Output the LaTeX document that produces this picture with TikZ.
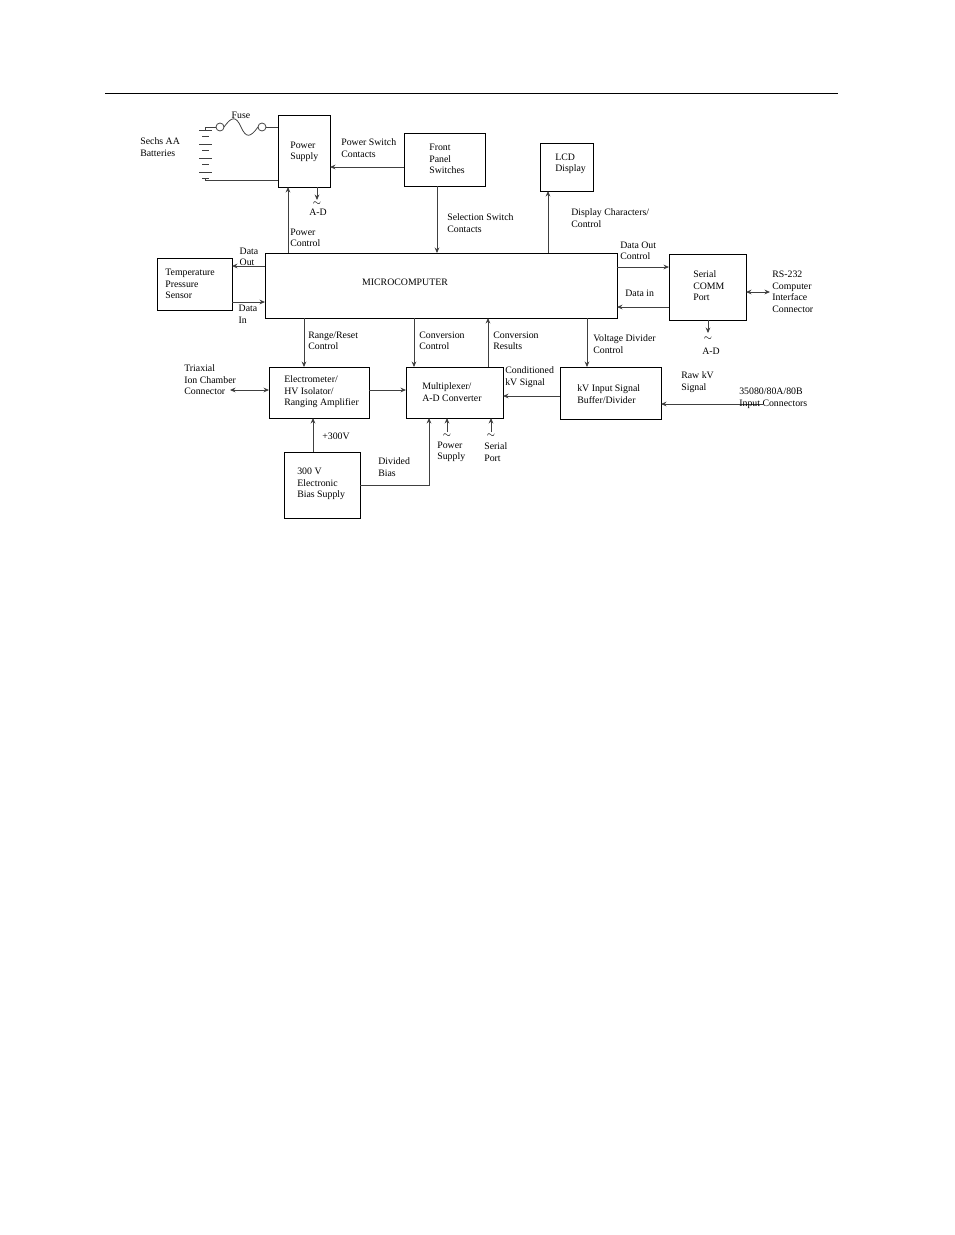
\documentclass[tikz,border=0pt]{standalone}
\usepackage{fontspec}
\setmainfont{Liberation Serif}
\usetikzlibrary{arrows.meta}

\begin{document}
\begin{tikzpicture}[x=0.641pt,y=-0.641pt,
  every node/.style={font=\fontsize{6.3}{7.4}\selectfont, align=left, inner sep=0pt},
  blk/.style={draw, line width=0.5pt},
  lbl/.style={anchor=west},
  wire/.style={line width=0.5pt, draw=black!75},
  arr/.style={wire, -{Stealth[length=3.5pt,width=3pt]}},
  darr/.style={wire, {Stealth[length=3.5pt,width=3pt]}-{Stealth[length=3.5pt,width=3pt]}}]
\useasboundingbox (0,0) rectangle (954,1235);
\draw[line width=0.6pt] (105,93) -- (838,93);

% blocks
\draw[blk] (278,115) rectangle (330,187);
\node[lbl] (psu) at (290,152) {Power\\Supply};
\draw[blk] (404,133) rectangle (485,186);
\node[lbl] (fps) at (429,159) {Front\\Panel\\Switches};
\draw[blk] (540,143) rectangle (593,191);
\node[lbl] (lcd) at (555,164) {LCD\\Display};
\draw[blk] (265,253) rectangle (617,318);
\node (mc) at (405,282) {MICROCOMPUTER};
\draw[blk] (157,258) rectangle (232,310);
\node[lbl] (tps) at (165,284) {Temperature\\Pressure\\Sensor};
\draw[blk] (669,254) rectangle (746,320);
\node[lbl] (scp) at (693,286) {Serial\\COMM\\Port};
\draw[blk] (269,367) rectangle (369,418);
\node[lbl] (elm) at (284,392) {Electrometer/\\HV Isolator/\\Ranging Amplifier};
\draw[blk] (406,367) rectangle (503,418);
\node[lbl] (mux) at (422,392) {Multiplexer/\\A-D Converter};
\draw[blk] (560,367) rectangle (661,419);
\node[lbl] (kvb) at (577,394) {kV Input Signal\\Buffer/Divider};
\draw[blk] (284,452) rectangle (360,518);
\node[lbl] (bias) at (297,484) {300 V\\Electronic\\Bias Supply};

% battery and fuse
\node[lbl] (bat) at (140,147) {Sechs AA\\Batteries};
\foreach \y in {130,144,158,172} {
  \draw[wire] (199,\y) -- (212,\y);
  \draw[wire] (202,\y+6) -- (209,\y+6);
}
\draw[wire] (205,127) -- (205,130);
\draw[wire] (205,178) -- (205,180) -- (278,180);
\draw[wire] (205,127) -- (216,127);
\draw[wire] (220,127) circle (4);
\draw[wire] (224,127) .. controls (232,116) and (236,116) .. (241,127)
  .. controls (246,138) and (250,138) .. (258,127);
\draw[wire] (262,127) circle (4);
\draw[wire] (266,127) -- (278,127);
\node (fuse) at (241,115) {Fuse};

% connectors
\draw[arr] (404,167) -- (330,167);
\node[lbl] at (341,148) {Power Switch\\Contacts};
\draw[arr] (437,186) -- (437,253);
\node[lbl] at (447,223) {Selection Switch\\Contacts};
\draw[arr] (288,253) -- (288,187);
\node[lbl] at (290,238) {Power\\Control};
\draw[arr] (317,187) -- (317,200);
\node at (317,204) {$\sim$};
\node at (318,212) {A-D};
\draw[arr] (548,253) -- (548,191);
\node[lbl] at (571,218) {Display Characters/\\Control};
\draw[arr] (265,266) -- (232,266);
\node at (249,257) {Data\\Out};
\draw[arr] (232,302) -- (265,302);
\node at (248,314) {Data\\In};
\draw[arr] (617,267) -- (669,267);
\node[lbl] at (620,251) {Data Out\\Control};
\draw[arr] (669,307) -- (617,307);
\node[lbl] at (625,293) {Data in};
\draw[darr] (746,292) -- (770,292);
\node[lbl] at (772,292) {RS-232\\Computer\\Interface\\Connector};
\draw[arr] (708,320) -- (708,333);
\node at (708,339) {$\sim$};
\node at (711,351) {A-D};
\draw[arr] (304,318) -- (304,367);
\node[lbl] at (308,341) {Range/Reset\\Control};
\draw[arr] (414,318) -- (414,367);
\node[lbl] at (419,341) {Conversion\\Control};
\draw[arr] (488,367) -- (488,318);
\node[lbl] at (493,341) {Conversion\\Results};
\draw[arr] (587,318) -- (587,367);
\node[lbl] at (593,344) {Voltage Divider\\Control};
\draw[darr] (230,390) -- (269,390);
\node[lbl] at (184,380) {Triaxial\\Ion Chamber\\Connector};
\draw[arr] (369,390) -- (406,390);
\draw[arr] (560,396) -- (503,396);
\node[lbl] at (505,377) {Conditioned\\kV Signal};
\draw[arr] (763,404) -- (661,404);
\node[lbl] at (681,382) {Raw kV\\Signal};
\node[lbl] at (739,398) {35080/80A/80B\\Input Connectors};
\draw[arr] (313,452) -- (313,418);
\node[lbl] at (322,436) {+300V};
\draw[arr] (360,485) -- (429,485) -- (429,418);
\node[lbl] at (378,467) {Divided\\Bias};
\draw[arr] (447,432) -- (447,418);
\node at (447,436) {$\sim$};
\node[lbl] at (437,452) {Power\\Supply};
\draw[arr] (491,432) -- (491,418);
\node at (491,436) {$\sim$};
\node[lbl] at (484,452) {Serial\\Port};
\end{tikzpicture}
\end{document}
